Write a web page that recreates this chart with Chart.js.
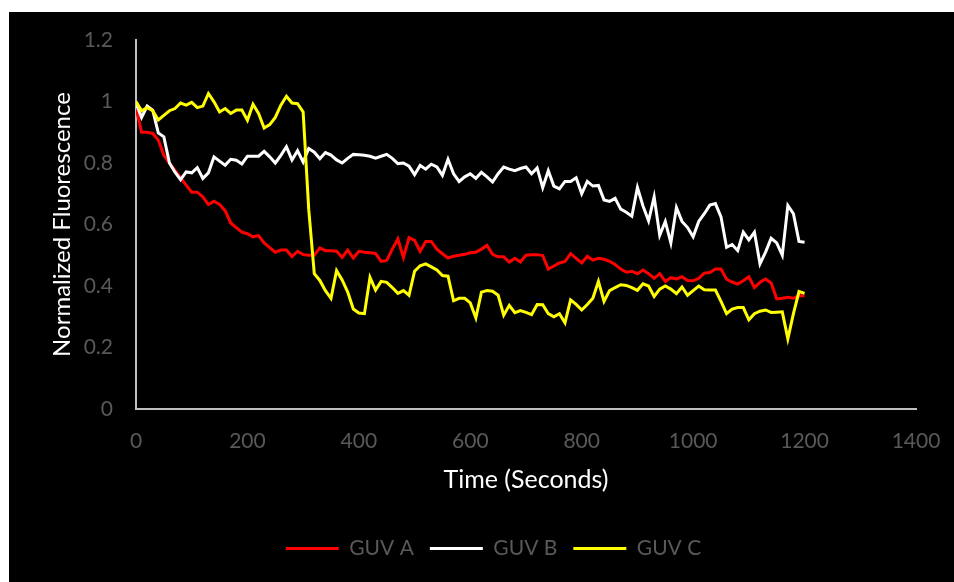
<!DOCTYPE html>
<html>
<head>
<meta charset="utf-8">
<script src="https://cdn.jsdelivr.net/npm/chart.js@4.4.0/dist/chart.umd.min.js"></script>
<style>
  html, body { margin: 0; padding: 0; background: #ffffff; width: 954px; height: 582px; overflow: hidden; }
  #wrap { position: absolute; left: 9px; top: 12px; width: 945px; height: 570px; background: #000000; }
</style>
</head>
<body>
<div id="wrap"><canvas id="c" width="945" height="570"></canvas></div>
<script>
const times = [0,10,20,30,40,50,60,70,80,90,100,110,120,130,140,150,160,170,180,190,200,210,220,230,240,250,260,270,280,290,300,310,320,330,340,350,360,370,380,390,400,410,420,430,440,450,460,470,480,490,500,510,520,530,540,550,560,570,580,590,600,610,620,630,640,650,660,670,680,690,700,710,720,730,740,750,760,770,780,790,800,810,820,830,840,850,860,870,880,890,900,910,920,930,940,950,960,970,980,990,1000,1010,1020,1030,1040,1050,1060,1070,1080,1090,1100,1110,1120,1130,1140,1150,1160,1170,1180,1190,1200];

const guvA = [0.98,0.90,0.90,0.896,0.875,0.825,0.80,0.776,0.752,0.728,0.705,0.705,0.69,0.665,0.676,0.665,0.645,0.605,0.59,0.575,0.57,0.56,0.564,0.54,0.525,0.51,0.517,0.517,0.496,0.513,0.502,0.50,0.50,0.524,0.515,0.515,0.513,0.493,0.517,0.491,0.513,0.51,0.508,0.506,0.48,0.483,0.52,0.553,0.493,0.557,0.548,0.513,0.545,0.545,0.52,0.505,0.491,0.497,0.50,0.503,0.508,0.51,0.52,0.532,0.503,0.495,0.495,0.478,0.49,0.478,0.50,0.502,0.502,0.499,0.455,0.465,0.475,0.48,0.505,0.49,0.475,0.497,0.484,0.49,0.487,0.48,0.47,0.455,0.445,0.448,0.44,0.452,0.44,0.425,0.44,0.415,0.427,0.423,0.43,0.418,0.417,0.425,0.442,0.444,0.455,0.455,0.422,0.413,0.406,0.417,0.43,0.395,0.412,0.423,0.41,0.358,0.36,0.363,0.36,0.368,0.368];

const guvB = [0.995,0.948,0.985,0.972,0.898,0.885,0.80,0.77,0.746,0.771,0.768,0.785,0.75,0.768,0.82,0.806,0.793,0.812,0.809,0.797,0.822,0.822,0.822,0.838,0.82,0.80,0.825,0.853,0.81,0.84,0.803,0.847,0.835,0.814,0.834,0.826,0.81,0.80,0.815,0.828,0.827,0.825,0.822,0.816,0.822,0.828,0.815,0.798,0.80,0.79,0.762,0.792,0.78,0.796,0.787,0.76,0.812,0.765,0.74,0.755,0.765,0.75,0.77,0.755,0.738,0.765,0.787,0.78,0.775,0.782,0.787,0.765,0.784,0.72,0.775,0.725,0.716,0.74,0.74,0.752,0.70,0.74,0.725,0.727,0.68,0.675,0.685,0.65,0.64,0.627,0.72,0.66,0.612,0.69,0.565,0.61,0.54,0.655,0.61,0.59,0.56,0.61,0.635,0.663,0.668,0.625,0.526,0.535,0.515,0.575,0.55,0.575,0.472,0.51,0.555,0.54,0.50,0.662,0.635,0.545,0.542];

const guvC = [1.00,0.97,0.98,0.97,0.94,0.955,0.97,0.977,0.995,0.988,0.997,0.98,0.985,1.026,0.999,0.966,0.977,0.961,0.972,0.972,0.939,0.991,0.961,0.914,0.925,0.948,0.988,1.017,0.995,0.993,0.966,0.65,0.44,0.418,0.385,0.36,0.45,0.42,0.38,0.325,0.312,0.31,0.428,0.387,0.415,0.412,0.395,0.376,0.385,0.37,0.448,0.466,0.472,0.462,0.452,0.434,0.432,0.352,0.36,0.36,0.345,0.296,0.38,0.385,0.383,0.37,0.305,0.337,0.313,0.32,0.314,0.307,0.34,0.339,0.31,0.30,0.31,0.28,0.355,0.34,0.322,0.34,0.36,0.415,0.35,0.385,0.395,0.404,0.402,0.395,0.386,0.407,0.40,0.366,0.39,0.40,0.39,0.375,0.397,0.37,0.385,0.40,0.388,0.387,0.387,0.35,0.31,0.325,0.33,0.33,0.29,0.31,0.318,0.322,0.314,0.315,0.316,0.228,0.31,0.382,0.376];

const seriesNames = ["GUV A", "GUV B", "GUV C"];
const seriesColors = ["#ff0000", "#ffffff", "#ffff00"];
const xTickLabels = ["0","200","400","600","800","1000","1200","1400"];
const yTickLabels = ["0","0.2","0.4","0.6","0.8","1","1.2"];
const xTitle = "Time (Seconds)";
const yTitle = "Normalized Fluorescence";

const FONT = "Lato, 'Open Sans', sans-serif";
const TICK_GRAY = "#595959";
const AXIS_GRAY = "#bfbfbf";

function pts(vals) { return times.map((t, i) => ({ x: t, y: vals[i] })); }

const allVals = [guvA, guvB, guvC];
const datasets = allVals.map((vals, i) => ({
  label: seriesNames[i],
  data: pts(vals),
  borderColor: seriesColors[i],
  backgroundColor: seriesColors[i],
  borderWidth: 3,
  pointRadius: 0,
  tension: 0,
  fill: false,
  order: 3 - i
}));

new Chart(document.getElementById('c'), {
  type: 'line',
  data: { datasets },
  options: {
    responsive: false,
    animation: false,
    layout: { autoPadding: false, padding: { left: 62, right: 38, top: 28, bottom: 13 } },
    plugins: {
      tooltip: { enabled: false },
      legend: {
        position: 'bottom',
        labels: {
          color: TICK_GRAY,
          font: { family: FONT, size: 21 },
          usePointStyle: true,
          pointStyle: 'line',
          pointStyleWidth: 53,
          padding: 16,
          sort: (a, b) => a.datasetIndex - b.datasetIndex
        }
      }
    },
    scales: {
      x: {
        type: 'linear',
        min: 0, max: 1400,
        grid: { display: false, drawTicks: false },
        border: { display: true, color: AXIS_GRAY, width: 2 },
        ticks: {
          stepSize: 200,
          color: TICK_GRAY,
          font: { family: FONT, size: 21 },
          padding: 20,
          maxRotation: 0,
          callback: (v) => xTickLabels[Math.round(v / 200)] ?? ''
        },
        title: {
          display: true, text: xTitle, color: '#ffffff',
          font: { family: FONT, size: 25 },
          padding: { top: 0, bottom: 27 }
        },
        afterFit: (s) => { s.height = 113; s.paddingLeft = 0; s.paddingRight = 0; }
      },
      y: {
        type: 'linear',
        min: 0, max: 1.2,
        grid: { display: false, drawTicks: false },
        border: { display: true, color: AXIS_GRAY, width: 2 },
        ticks: {
          stepSize: 0.2,
          color: TICK_GRAY,
          font: { family: FONT, size: 21 },
          padding: 23,
          callback: (v) => yTickLabels[Math.round(v / 0.2)] ?? ''
        },
        title: {
          display: true, text: yTitle, color: '#ffffff',
          font: { family: FONT, size: 24 },
          padding: { top: -23, bottom: 0 }
        },
        afterFit: (s) => { s.width = 65; s.paddingTop = 0; s.paddingBottom = 0; }
      }
    }
  }
});
</script>
</body>
</html>
